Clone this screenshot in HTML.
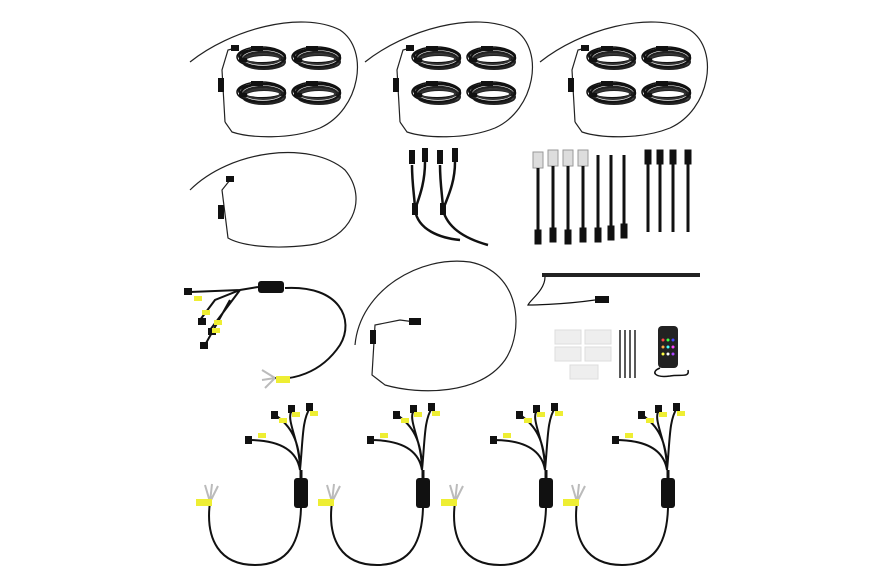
<!DOCTYPE html>
<html><head><meta charset="utf-8"><style>html,body{margin:0;padding:0;background:#fff}svg{display:block}</style></head>
<body>
<svg width="886" height="585" viewBox="0 0 886 585" xmlns="http://www.w3.org/2000/svg">
<defs>
<g id="coil">
 <ellipse cx="26" cy="14" rx="22" ry="9" fill="none" stroke="#111" stroke-width="2.5"/>
 <ellipse cx="26" cy="16" rx="20" ry="8" fill="none" stroke="#222" stroke-width="2.5"/>
 <ellipse cx="25" cy="12" rx="23" ry="7" fill="none" stroke="#111" stroke-width="2"/>
 <ellipse cx="27" cy="18" rx="21" ry="7" fill="none" stroke="#222" stroke-width="2"/>
 <ellipse cx="26" cy="15" rx="17" ry="5" fill="none" stroke="#333" stroke-width="2"/>
 <ellipse cx="24" cy="13" rx="24" ry="10" fill="none" stroke="#111" stroke-width="1.5"/>
 <rect x="14" y="2" width="12" height="5" fill="#111"/>
 <rect x="2" y="14" width="8" height="4" fill="#111"/>
</g>
<g id="loop1">
 <path d="M190 62 C230 30 300 10 340 30 C370 50 360 110 320 128 C290 140 250 138 232 132 L225 122" fill="none" stroke="#222" stroke-width="1.2"/>
 <path d="M225 122 L222 70 L228 50 L236 48" fill="none" stroke="#222" stroke-width="1.2"/>
 <rect x="231" y="45" width="8" height="6" fill="#111"/>
 <rect x="218" y="78" width="6" height="14" fill="#111"/>
 <use href="#coil" x="237" y="44"/>
 <use href="#coil" x="292" y="44"/>
 <use href="#coil" x="237" y="79"/>
 <use href="#coil" x="292" y="79"/>
</g>
<g id="ctrl">
 <path d="M300 470 C300 440 290 425 275 415 M300 470 C300 440 285 420 292 410 M300 470 C303 440 302 420 310 408 M300 470 C296 445 270 440 248 440" fill="none" stroke="#111" stroke-width="2"/>
 <rect x="294" y="478" width="14" height="30" rx="3" fill="#111"/>
 <path d="M301 508 C300 540 290 565 255 565 C220 565 205 540 210 502" fill="none" stroke="#111" stroke-width="2"/>
 <path d="M301 478 L301 470" stroke="#111" stroke-width="3"/>
 <rect x="245" y="436" width="7" height="8" fill="#111"/><rect x="258" y="433" width="8" height="5" fill="#ee3"/>
 <rect x="271" y="411" width="7" height="8" fill="#111"/><rect x="279" y="418" width="8" height="5" fill="#ee3"/>
 <rect x="288" y="405" width="7" height="8" fill="#111"/><rect x="292" y="412" width="8" height="5" fill="#ee3"/>
 <rect x="306" y="403" width="7" height="8" fill="#111"/><rect x="310" y="411" width="8" height="5" fill="#ee3"/>
 <path d="M210 502 L205 485 M210 502 L212 484 M210 502 L218 486" stroke="#bbb" stroke-width="2"/>
 <rect x="196" y="499" width="16" height="7" fill="#ee3"/>
</g>
</defs>
<rect width="886" height="585" fill="#fff"/>
<use href="#loop1"/>
<use href="#loop1" x="175"/>
<use href="#loop1" x="350"/>
<path d="M190 190 C230 150 310 140 345 170 C370 200 350 240 310 245 C270 250 240 245 228 238 L222 190 L230 180" fill="none" stroke="#222" stroke-width="1.2"/>
<rect x="226" y="176" width="8" height="6" fill="#111"/><rect x="218" y="205" width="6" height="14" fill="#111"/>
<path d="M412 165 C412 185 415 200 415 210 M425 162 C425 185 418 200 415 210 M415 210 C418 230 440 238 460 240" fill="none" stroke="#111" stroke-width="2.5"/>
<path d="M440 165 C440 185 443 200 443 210 M455 162 C455 185 446 200 443 210 M443 210 C448 230 470 240 488 245" fill="none" stroke="#111" stroke-width="2.5"/>
<rect x="409" y="150" width="6" height="14" fill="#111"/><rect x="422" y="148" width="6" height="14" fill="#111"/>
<rect x="437" y="150" width="6" height="14" fill="#111"/><rect x="452" y="148" width="6" height="14" fill="#111"/>
<rect x="412" y="203" width="6" height="12" fill="#111"/><rect x="440" y="203" width="6" height="12" fill="#111"/>
<g fill="#111" stroke="#111">
<rect x="533" y="152" width="10" height="16" fill="#ddd" stroke="#999"/><path d="M538 168 V240" stroke-width="3"/><rect x="535" y="230" width="6" height="14"/>
<rect x="548" y="150" width="10" height="16" fill="#ddd" stroke="#999"/><path d="M553 166 V238" stroke-width="3"/><rect x="550" y="228" width="6" height="14"/>
<rect x="563" y="150" width="10" height="16" fill="#ddd" stroke="#999"/><path d="M568 166 V240" stroke-width="3"/><rect x="565" y="230" width="6" height="14"/>
<rect x="578" y="150" width="10" height="16" fill="#ddd" stroke="#999"/><path d="M583 166 V238" stroke-width="3"/><rect x="580" y="228" width="6" height="14"/>
<path d="M598 155 V240 M611 155 V238 M624 155 V236 M648 155 V232 M660 155 V232 M673 155 V232 M688 155 V232" stroke-width="3"/>
<rect x="595" y="228" width="6" height="14"/><rect x="608" y="226" width="6" height="14"/><rect x="621" y="224" width="6" height="14"/>
<rect x="645" y="150" width="6" height="14"/><rect x="657" y="150" width="6" height="14"/><rect x="670" y="150" width="6" height="14"/><rect x="685" y="150" width="6" height="14"/>
</g>
<path d="M285 288 C340 285 355 320 340 345 C320 375 290 380 275 378" fill="none" stroke="#111" stroke-width="2"/>
<rect x="258" y="281" width="26" height="12" rx="3" fill="#111"/>
<path d="M258 287 L240 290 L215 300 L200 320 M240 290 L225 310 L210 330 M240 290 L190 292 M230 300 L205 345" fill="none" stroke="#111" stroke-width="2"/>
<rect x="184" y="288" width="8" height="7" fill="#111"/><rect x="194" y="296" width="8" height="5" fill="#ee3"/>
<rect x="198" y="318" width="8" height="7" fill="#111"/><rect x="202" y="310" width="8" height="5" fill="#ee3"/>
<rect x="208" y="328" width="8" height="7" fill="#111"/><rect x="214" y="320" width="8" height="5" fill="#ee3"/>
<rect x="200" y="342" width="8" height="7" fill="#111"/><rect x="212" y="328" width="8" height="5" fill="#ee3"/>
<path d="M275 378 L262 370 M275 378 L262 380 M275 378 L265 388" stroke="#bbb" stroke-width="2"/>
<rect x="276" y="376" width="14" height="7" fill="#ee3"/>
<path d="M355 345 C360 290 420 255 470 262 C520 272 525 330 505 360 C480 395 420 395 385 385 L372 375 L375 325 L400 320 L415 322" fill="none" stroke="#222" stroke-width="1.2"/>
<rect x="409" y="318" width="12" height="7" fill="#111"/><rect x="370" y="330" width="6" height="14" fill="#111"/>
<rect x="542" y="273" width="158" height="4" fill="#222"/>
<path d="M545 277 C545 290 530 300 528 305 C528 305 560 305 595 300" fill="none" stroke="#111" stroke-width="1.2"/>
<rect x="595" y="296" width="14" height="7" fill="#111"/>
<g fill="#eee" stroke="#ddd">
<rect x="555" y="330" width="26" height="14"/><rect x="585" y="330" width="26" height="14"/>
<rect x="555" y="347" width="26" height="14"/><rect x="585" y="347" width="26" height="14"/>
<rect x="570" y="365" width="28" height="14"/>
</g>
<path d="M620 330 V378 M625 330 V378 M630 330 V378 M635 330 V378" stroke="#222" stroke-width="1.5"/>
<rect x="658" y="326" width="20" height="42" rx="4" fill="#222"/>
<circle cx="663" cy="340" r="1.5" fill="#f44"/><circle cx="668" cy="340" r="1.5" fill="#4f4"/><circle cx="673" cy="340" r="1.5" fill="#44f"/>
<circle cx="663" cy="347" r="1.5" fill="#fa4"/><circle cx="668" cy="347" r="1.5" fill="#4ff"/><circle cx="673" cy="347" r="1.5" fill="#f4f"/>
<circle cx="663" cy="354" r="1.5" fill="#ff4"/><circle cx="668" cy="354" r="1.5" fill="#fff"/><circle cx="673" cy="354" r="1.5" fill="#a4f"/>
<path d="M660 368 C650 372 655 378 670 376 C680 374 690 378 688 370" fill="none" stroke="#111" stroke-width="1.5"/>
<use href="#ctrl"/>
<use href="#ctrl" x="122"/>
<use href="#ctrl" x="245"/>
<use href="#ctrl" x="367"/>
</svg>
</body></html>
